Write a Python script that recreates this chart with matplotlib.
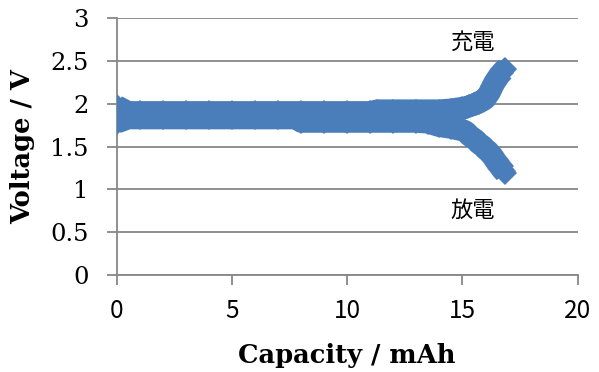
import matplotlib
matplotlib.use("Agg")
import matplotlib.pyplot as plt

# charge / discharge curves (capacity in mAh, voltage in V)
charge_cap = [0, 0.5, 1, 2, 3, 4, 5, 6, 7, 8, 9, 10, 11, 11.3, 12, 13, 14, 14.5,
              15.0, 15.1, 15.2, 15.3, 15.4, 15.5, 15.6, 15.7, 15.8, 15.9, 16.0,
              16.1, 16.2, 16.3, 16.4, 16.5, 16.6, 16.7, 16.8, 16.86]
charge_v = [1.97, 1.90, 1.90, 1.90, 1.90, 1.90, 1.90, 1.90, 1.90, 1.90, 1.90, 1.90,
            1.90, 1.92, 1.92, 1.92, 1.92, 1.93,
            1.95, 1.95, 1.96, 1.97, 1.98, 1.99, 2.00, 2.01, 2.03, 2.04, 2.06,
            2.10, 2.14, 2.20, 2.25, 2.29, 2.33, 2.36, 2.39, 2.40]
discharge_cap = [0, 0.5, 1, 2, 3, 4, 5, 6, 7, 7.8, 8, 9, 10, 11, 12, 13, 13.5, 14,
                 14.5, 15.0, 15.1, 15.2, 15.3, 15.4, 15.5, 15.6, 15.7, 15.8, 15.9,
                 16.0, 16.1, 16.2, 16.3, 16.4, 16.5, 16.6, 16.7, 16.8, 16.86]
discharge_v = [1.78, 1.83, 1.83, 1.83, 1.83, 1.83, 1.83, 1.83, 1.83, 1.83, 1.79,
               1.79, 1.79, 1.79, 1.79, 1.79, 1.78, 1.74, 1.72,
               1.69, 1.68, 1.66, 1.63, 1.61, 1.59, 1.57, 1.54, 1.52, 1.50,
               1.47, 1.45, 1.42, 1.39, 1.35, 1.31, 1.28, 1.24, 1.21, 1.19]

xticks = [0, 5, 10, 15, 20]
yticks = [0, 0.5, 1, 1.5, 2, 2.5, 3]
ytick_labels = ["0", "0.5", "1", "1.5", "2", "2.5", "3"]

blue = "#4a7ebb"
grid = "#878787"

fig = plt.figure(figsize=(5.99, 3.72), dpi=100)
ax = fig.add_axes([116.7 / 599, 96.7 / 372, 461 / 599, 257.5 / 372])

for cap, v in [(charge_cap, charge_v), (discharge_cap, discharge_v)]:
    ax.plot(cap, v, color=blue, lw=16, solid_capstyle="butt",
            solid_joinstyle="round", marker="D", ms=12.3, mew=0, zorder=3)

ax.set_xlim(0, 20)
ax.set_ylim(0, 3)
ax.set_xticks(xticks)
ax.set_yticks(yticks)
ax.set_yticklabels(ytick_labels)
ax.yaxis.grid(True, color=grid, lw=1.3)
ax.set_axisbelow(True)
for s in ["top", "right"]:
    ax.spines[s].set_visible(False)
for s in ["left", "bottom"]:
    ax.spines[s].set_color(grid)
    ax.spines[s].set_linewidth(1.3)
ax.tick_params(axis="both", color=grid, width=1.3, length=7, direction="out")
ax.tick_params(axis="y", pad=13)
ax.tick_params(axis="x", pad=9)
for t in ax.get_yticklabels():
    t.set_fontfamily("DejaVu Serif")
    t.set_fontsize(17.5)
for t in ax.get_xticklabels():
    t.set_fontfamily("Noto Sans CJK JP")
    t.set_fontsize(17.5)

ax.set_xlabel("Capacity / mAh", fontfamily="DejaVu Serif", fontweight="bold",
              fontsize=18.5, labelpad=14)
ax.set_ylabel("Voltage / V", fontfamily="DejaVu Serif", fontweight="bold",
              fontsize=18.5, labelpad=11)

ax.text(15.44, 2.71, "充電", fontfamily="Noto Sans CJK JP", fontsize=16,
        ha="center", va="center")
ax.text(15.44, 0.76, "放電", fontfamily="Noto Sans CJK JP", fontsize=16,
        ha="center", va="center")

fig.savefig("out.png", dpi=100)
